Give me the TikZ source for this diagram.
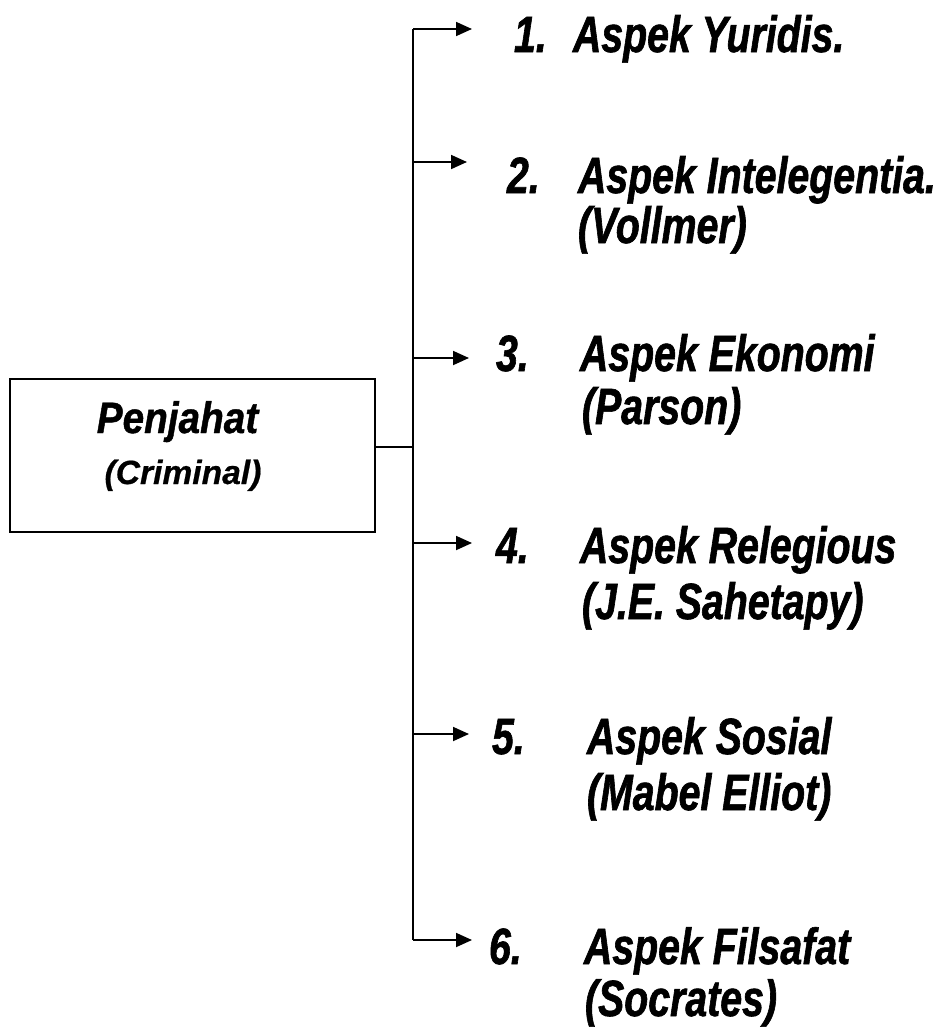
\documentclass[tikz,border=0pt]{standalone}
\usepackage{fontspec}
\usetikzlibrary{arrows.meta}
\newfontfamily\fontNarrow[FakeStretch=0.77,FakeBold=1.2]{Liberation Sans}
\newfontfamily\fontMed[FakeStretch=0.88,FakeBold=1]{Liberation Sans}
\newfontfamily\fontWide[FakeBold=0.6]{Liberation Sans}
\begin{document}
\begin{tikzpicture}[x=0.5pt,y=-0.5pt,
  lbl/.style={anchor=base west,inner sep=0pt,outer sep=0pt,font=\fontNarrow\bfseries\itshape\fontsize{25.5}{30}\selectfont},
  boxnode/.style={draw,line width=1.1pt,minimum width=182.5pt,minimum height=76.5pt,inner sep=0pt},
  conn/.style={line width=0.9pt},
  arr/.style={line width=0.9pt,-{Triangle[length=8pt,width=7pt]}}]
\useasboundingbox (0,0) rectangle (939,1028);
% source box
\node[boxnode] (crim) at (192.5,455.5) {};
\node[anchor=base,inner sep=0pt,font=\fontMed\bfseries\itshape\fontsize{22}{26}\selectfont] (pen) at (177.5,433) {Penjahat};
\node[anchor=base,inner sep=0pt,font=\fontWide\bfseries\itshape\fontsize{16.8}{20}\selectfont] (crm) at (183,484) {(Criminal)};
% trunk
\coordinate (j) at (413,447);
\coordinate (b1) at (413,29);
\coordinate (b2) at (413,162);
\coordinate (b3) at (413,358);
\coordinate (b4) at (413,543);
\coordinate (b5) at (413,734);
\coordinate (b6) at (413,940);
\coordinate (t1) at (472,29);
\coordinate (t2) at (467,162);
\coordinate (t3) at (469,358);
\coordinate (t4) at (472,543);
\coordinate (t5) at (469,734);
\coordinate (t6) at (472,940);
\draw[conn] (crim.east |- j) -- (j);
\draw[conn] (b1) -- (b6);
\foreach \i in {1,...,6} {\draw[arr] (b\i) -- (t\i);}
% labels
\node[lbl] (n1) at (514,52) {1.};
\node[lbl] (a1) at (573,52) {Aspek Yuridis.};
\node[lbl] (n2) at (507,193) {2.};
\node[lbl] (a2) at (578,193) {Aspek Intelegentia.};
\node[lbl] (p2) at (578,243) {(Vollmer)};
\node[lbl] (n3) at (496,371) {3.};
\node[lbl] (a3) at (580,371) {Aspek Ekonomi};
\node[lbl] (p3) at (582,424) {(Parson)};
\node[lbl] (n4) at (496,563) {4.};
\node[lbl] (a4) at (580,563) {Aspek Relegious};
\node[lbl] (p4) at (582,619) {(J.E. Sahetapy)};
\node[lbl] (n5) at (492,754) {5.};
\node[lbl] (a5) at (587,754) {Aspek Sosial};
\node[lbl] (p5) at (587,810) {(Mabel Elliot)};
\node[lbl] (n6) at (489,964) {6.};
\node[lbl] (a6) at (584,964) {Aspek Filsafat};
\node[lbl] (p6) at (585,1016) {(Socrates)};
\end{tikzpicture}
\end{document}
